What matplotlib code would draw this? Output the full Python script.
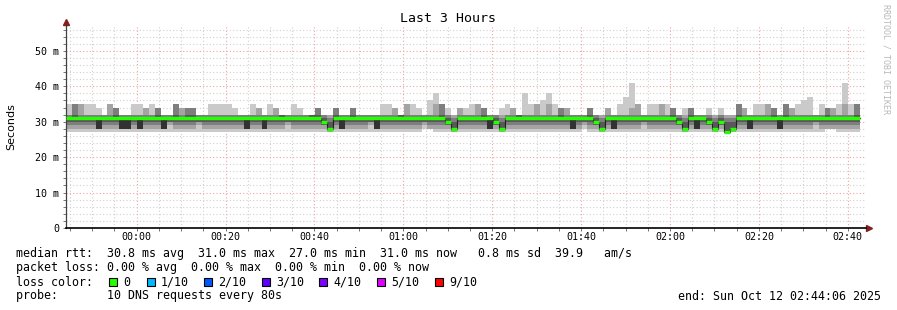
import numpy as np
import matplotlib
matplotlib.use("Agg")
import matplotlib.pyplot as plt
from matplotlib.patches import Rectangle

p1 = [27] * 60 + [28, 28] + [27] * 25 + [28] + [27] * 40 + [28, 28] + [27] * 4
p2 = [28, 28, 28, 28, 28, 28, 28, 28, 28, 28,
      28, 28, 28, 28, 28, 28, 28, 29, 28, 28,
      28, 28, 29, 28, 28, 28, 28, 28, 28, 28,
      28, 28, 28, 28, 28, 28, 28, 29, 28, 28,
      28, 28, 28, 28, 27, 28, 28, 28, 28, 28,
      28, 29, 28, 28, 28, 28, 28, 28, 28, 28,
      29, 28, 28, 28, 28, 27, 28, 28, 28, 28,
      28, 28, 28, 27, 28, 28, 28, 28, 28, 28,
      28, 28, 28, 28, 28, 28, 28, 29, 28, 28,
      27, 28, 28, 28, 28, 28, 28, 29, 28, 28,
      28, 28, 28, 28, 27, 28, 28, 28, 28, 27,
      28, 27, 27, 28, 28, 28, 28, 28, 28, 28,
      28, 28, 28, 28, 28, 28, 29, 28, 28, 28,
      28, 28, 28, 28]
p3 = [29, 29, 29, 29, 29, 28, 29, 29, 29, 28,
      28, 29, 28, 29, 29, 29, 28, 30, 29, 29,
      29, 29, 30, 29, 29, 29, 29, 29, 29, 29,
      28, 29, 29, 28, 29, 29, 29, 30, 29, 29,
      29, 29, 29, 29, 28, 29, 28, 29, 29, 29,
      29, 30, 28, 29, 29, 29, 29, 29, 29, 29,
      30, 29, 29, 29, 29, 28, 29, 29, 29, 29,
      29, 28, 29, 28, 29, 29, 29, 29, 29, 29,
      29, 29, 29, 29, 29, 28, 29, 30, 29, 29,
      28, 29, 28, 29, 29, 29, 29, 30, 29, 29,
      29, 29, 29, 29, 28, 29, 28, 29, 29, 28,
      29, 27, 28, 29, 29, 28, 29, 29, 29, 29,
      28, 29, 29, 29, 29, 29, 30, 29, 29, 29,
      29, 29, 29, 29]
p4 = [30, 30, 30, 30, 30, 28, 30, 30, 30, 28,
      28, 30, 28, 30, 30, 30, 28, 30, 30, 30,
      30, 30, 30, 30, 30, 30, 30, 30, 30, 30,
      28, 30, 30, 28, 30, 30, 30, 30, 30, 30,
      30, 30, 30, 29, 28, 30, 28, 30, 30, 30,
      30, 30, 28, 30, 30, 30, 30, 30, 30, 30,
      30, 30, 30, 30, 29, 28, 30, 30, 30, 30,
      30, 28, 29, 28, 30, 30, 30, 30, 30, 30,
      30, 30, 30, 30, 30, 28, 30, 30, 30, 29,
      28, 30, 28, 30, 30, 30, 30, 30, 30, 30,
      30, 30, 30, 29, 28, 30, 28, 30, 29, 28,
      29, 27, 28, 30, 30, 28, 30, 30, 30, 30,
      28, 30, 30, 30, 30, 30, 30, 30, 30, 30,
      30, 30, 30, 30]
p5 = [31, 31, 31, 31, 31, 28, 31, 31, 31, 28,
      28, 31, 28, 31, 31, 31, 28, 31, 31, 31,
      31, 31, 31, 31, 31, 31, 31, 31, 31, 31,
      28, 31, 31, 28, 31, 31, 31, 31, 31, 31,
      31, 31, 31, 30, 28, 31, 28, 31, 31, 31,
      31, 31, 28, 31, 31, 31, 31, 31, 31, 31,
      31, 31, 31, 31, 30, 28, 31, 31, 31, 31,
      31, 28, 30, 28, 31, 31, 31, 31, 31, 31,
      31, 31, 31, 31, 31, 28, 31, 31, 31, 30,
      28, 31, 28, 31, 31, 31, 31, 31, 31, 31,
      31, 31, 31, 30, 28, 31, 28, 31, 30, 28,
      30, 27, 28, 31, 31, 28, 31, 31, 31, 31,
      28, 31, 31, 31, 31, 31, 31, 31, 31, 31,
      31, 31, 31, 31]
# median rtt (green line), also the 6th ping
median = ([31] * 43 + [30, 28] + [31] * 19 + [30, 28] + [31] * 6 + [30, 28]
          + [31] * 15 + [30, 28] + [31] * 12 + [30, 28] + [31] * 3
          + [30, 28, 30, 27, 28] + [31] * 21)
p7 = [31, 32, 31, 31, 31, 31, 31, 31, 32, 31,
      31, 31, 31, 31, 31, 32, 31, 31, 32, 31,
      32, 32, 31, 31, 31, 31, 31, 31, 31, 31,
      31, 31, 31, 31, 31, 31, 32, 31, 31, 31,
      31, 32, 32, 31, 30, 32, 31, 31, 32, 31,
      31, 31, 31, 31, 31, 31, 32, 31, 31, 31,
      31, 31, 31, 32, 31, 30, 31, 31, 31, 31,
      32, 31, 31, 30, 31, 31, 32, 31, 31, 31,
      31, 31, 31, 32, 31, 31, 31, 31, 32, 31,
      30, 31, 31, 31, 31, 31, 31, 31, 31, 31,
      31, 31, 32, 31, 30, 32, 31, 31, 31, 30,
      31, 30, 30, 32, 31, 31, 31, 31, 31, 32,
      31, 32, 31, 31, 31, 31, 31, 31, 32, 31,
      31, 31, 31, 32]
p8 = [32, 35, 32, 32, 32, 32, 32, 32, 34, 32,
      32, 32, 32, 32, 32, 34, 32, 32, 35, 32,
      34, 34, 32, 32, 32, 32, 32, 32, 32, 32,
      32, 32, 32, 32, 32, 32, 32, 32, 32, 32,
      32, 32, 34, 32, 31, 34, 32, 32, 34, 32,
      32, 32, 32, 32, 32, 32, 32, 32, 32, 32,
      32, 32, 32, 35, 32, 31, 32, 32, 32, 32,
      34, 32, 32, 31, 32, 32, 32, 32, 32, 32,
      32, 32, 32, 34, 32, 32, 32, 32, 34, 32,
      31, 32, 32, 32, 32, 32, 32, 32, 32, 32,
      32, 32, 34, 32, 31, 34, 32, 32, 32, 31,
      32, 31, 31, 35, 32, 32, 32, 32, 32, 34,
      32, 35, 32, 32, 32, 32, 32, 32, 34, 32,
      32, 32, 32, 35]
p9 = [32, 35, 35, 32, 32, 32, 32, 35, 34, 32,
      32, 32, 32, 34, 32, 34, 32, 32, 35, 34,
      34, 34, 32, 32, 32, 32, 32, 32, 32, 32,
      32, 32, 34, 32, 32, 34, 32, 32, 32, 32,
      32, 32, 34, 32, 32, 34, 32, 32, 34, 32,
      32, 32, 32, 32, 32, 34, 32, 35, 32, 32,
      32, 32, 35, 35, 32, 32, 34, 32, 32, 35,
      34, 32, 32, 32, 32, 34, 32, 32, 32, 35,
      32, 35, 32, 34, 34, 32, 32, 32, 34, 32,
      32, 34, 32, 32, 32, 34, 35, 32, 32, 32,
      35, 32, 34, 32, 32, 34, 32, 32, 32, 32,
      32, 32, 32, 35, 34, 32, 32, 32, 35, 34,
      32, 35, 34, 32, 32, 32, 32, 32, 34, 34,
      32, 35, 32, 35]
p10 = [35, 35, 35, 35, 35, 34, 32, 35, 34, 32,
       32, 35, 35, 34, 35, 34, 32, 32, 35, 34,
       34, 34, 32, 32, 35, 35, 35, 35, 34, 32,
       32, 35, 34, 32, 35, 34, 32, 32, 35, 34,
       32, 32, 34, 32, 32, 34, 32, 32, 34, 32,
       32, 32, 32, 35, 35, 34, 32, 35, 35, 34,
       32, 36, 38, 35, 34, 32, 34, 34, 35, 35,
       34, 32, 32, 34, 35, 34, 32, 38, 35, 35,
       36, 38, 35, 34, 34, 32, 32, 32, 34, 32,
       32, 34, 32, 35, 37, 41, 35, 32, 35, 35,
       35, 35, 34, 32, 34, 34, 32, 32, 34, 32,
       34, 32, 32, 35, 34, 32, 35, 35, 35, 34,
       32, 35, 34, 35, 36, 37, 32, 35, 34, 34,
       35, 41, 35, 35]

start_min = -(15 + 54 / 60)   # 23:44:06 relative to 00:00
step_min = 80 / 60
xticks = [0, 20, 40, 60, 80, 100, 120, 140, 160]
xlabels = ["00:00", "00:20", "00:40", "01:00", "01:20", "01:40", "02:00", "02:20", "02:40"]
yticks = [0, 10, 20, 30, 40, 50]
ylabels = ["0", "10 m", "20 m", "30 m", "40 m", "50 m"]

loss_labels = ["0", "1/10", "2/10", "3/10", "4/10", "5/10", "9/10"]
loss_colors = ["#26ff00", "#00b8ff", "#0059ff", "#5e00ff", "#7e00ff", "#dd00ff", "#ff0000"]

mono = "DejaVu Sans Mono"
W, H = 897, 310

fig = plt.figure(figsize=(W / 100, H / 100), dpi=100)
ax = fig.add_axes([66 / W, 82 / H, 800 / W, 202 / H])
ax.set_axisbelow(True)

n = len(median)
x = start_min + np.arange(n + 1) * step_min
pings = [p1, p2, p3, p4, p5, median, p7, p8, p9, p10]
greys = ["#cacaca", "#a4a4a4", "#7e7e7e", "#585858", "#323232"]
for i in range(5):
    lo = np.append(pings[i], pings[i][-1])
    hi = np.append(pings[9 - i], pings[9 - i][-1])
    ax.fill_between(x, lo, hi, step="post", color=greys[i], lw=0, antialiased=False, zorder=2)

med = np.append(median, median[-1])
ax.step(x, med, where="post", color="#202020", lw=0.8, zorder=3)
# green median: one line per run of equal values, so no seams between steps
run_start = 0
for k in range(1, n + 1):
    if k == n or median[k] != median[run_start]:
        ax.plot([x[run_start], x[k]], [median[run_start]] * 2, color="#26ff00",
                lw=2.4, solid_capstyle="butt", zorder=4)
        run_start = k

ax.set_xlim(start_min, start_min + 180)
ax.set_ylim(0, 57)
ax.set_xticks(xticks)
ax.set_xticklabels(xlabels, family=mono, fontsize=7.2)
ax.set_xticks(np.arange(-15, 165, 5), minor=True)
ax.set_yticks(yticks)
ax.set_yticklabels(ylabels, family=mono, fontsize=7.2)
ax.set_yticks(np.arange(0, 57, 2), minor=True)
ax.grid(which="minor", color="#d0d0d0", ls=(0, (1, 2)), lw=0.8)
ax.grid(which="major", color="#f4a0a0", ls=(0, (1, 2)), lw=0.8)
ax.tick_params(which="both", length=2, width=0.6, color="#606060", direction="out", pad=3)
ax.tick_params(axis="x", pad=1)
for s in ["top", "right"]:
    ax.spines[s].set_visible(False)
ax.spines["left"].set_color("#404040")
ax.spines["bottom"].set_color("#000000")
ax.spines["left"].set_linewidth(0.9)
ax.spines["bottom"].set_linewidth(1.2)
ax.plot([1.004], [0], marker=">", ms=4, color="#802020", transform=ax.transAxes, clip_on=False)
ax.plot([0], [1.02], marker="^", ms=4, color="#802020", transform=ax.transAxes, clip_on=False)

fig.text(448 / W, 1 - 19 / H, "Last 3 Hours", family=mono, fontsize=9.5, ha="center", va="center")
fig.text(11 / W, 1 - 127 / H, "Seconds", fontsize=8, rotation=90, ha="center", va="center")
fig.text(886 / W, 1 - 59 / H, "RRDTOOL / TOBI OETIKER", family=mono, fontsize=6,
         color="#b8b8b8", rotation=270, ha="center", va="center")

fs = 8.4
fig.text(16 / W, 1 - 254 / H,
         "median rtt:  30.8 ms avg  31.0 ms max  27.0 ms min  31.0 ms now   0.8 ms sd  39.9   am/s",
         family=mono, fontsize=fs, va="center")
fig.text(16 / W, 1 - 268 / H,
         "packet loss: 0.00 % avg  0.00 % max  0.00 % min  0.00 % now",
         family=mono, fontsize=fs, va="center")
fig.text(16 / W, 1 - 282 / H, "loss color:", family=mono, fontsize=fs, va="center")
box_x = [109, 147, 204, 262, 319, 377, 435]
for bx, lab, col in zip(box_x, loss_labels, loss_colors):
    fig.add_artist(Rectangle((bx / W, 1 - 286 / H), 8 / W, 8 / H, transform=fig.transFigure,
                             facecolor=col, edgecolor="black", lw=0.8))
    fig.text((bx + 14) / W, 1 - 282 / H, lab, family=mono, fontsize=fs, va="center")
fig.text(16 / W, 1 - 296 / H, "probe:       10 DNS requests every 80s",
         family=mono, fontsize=fs, va="center")
fig.text(881 / W, 1 - 296 / H, "end: Sun Oct 12 02:44:06 2025",
         family=mono, fontsize=fs, va="center", ha="right")

fig.savefig("out.png", dpi=100)
